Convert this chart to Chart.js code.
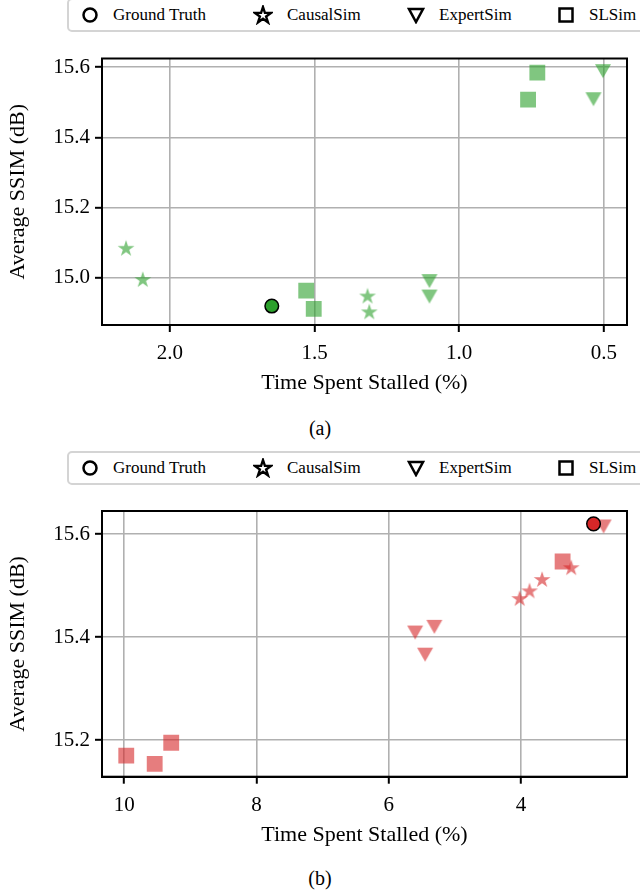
<!DOCTYPE html>
<html lang="en">
<head>
    <meta charset="UTF-8">
    <title>Average SSIM vs Time Spent Stalled</title>
    <script src="https://cdn.jsdelivr.net/npm/chart.js"></script>
    <style>
        body {
            margin: 0;
            width: 640px;
            height: 896px;
            position: relative;
            overflow: hidden;
            background: #fff;
            font-family: "Liberation Serif", "DejaVu Serif", serif;
        }

        .legend {
            position: absolute;
            left: 67px;
            width: 600px;
            height: 34px;
            border: 2px solid #d4d4d4;
            border-radius: 5px;
            box-sizing: border-box;
            background: #fff;
        }

        .legend .item {
            position: absolute;
            top: 0;
            height: 100%;
            display: flex;
            align-items: center;
            font-size: 17px;
            color: #000;
        }

        .legend svg {
            margin-right: 14px;
        }

        .panel {
            position: absolute;
            left: 0;
        }

        .caption {
            position: absolute;
            left: 0;
            width: 640px;
            text-align: center;
            font-size: 20px;
            color: #000;
        }
    </style>
</head>
<body>
    <!-- Legend (a) -->
    <div class="legend" style="top:-2px">
        <div class="item" style="left:12px"><svg width="18" height="18"><circle cx="9" cy="9" r="6.5" fill="none" stroke="#000" stroke-width="2.5"/></svg>Ground Truth</div>
        <div class="item" style="left:184px"><svg width="20" height="20"><polygon points="10,2 11.91,7.87 18.08,7.87 13.09,11.5 15,17.38 10,13.75 5,17.38 6.91,11.5 1.92,7.87 8.09,7.87" fill="none" stroke="#000" stroke-width="2.4"/></svg>CausalSim</div>
        <div class="item" style="left:338px"><svg width="18" height="18"><polygon points="2,3 16,3 9,16" fill="none" stroke="#000" stroke-width="2.5"/></svg>ExpertSim</div>
        <div class="item" style="left:488px"><svg width="18" height="18"><rect x="2.5" y="2.5" width="13" height="13" fill="none" stroke="#000" stroke-width="2.5"/></svg>SLSim</div>
    </div>
    <canvas id="chartA" class="panel" width="640" height="370" style="top:40px"></canvas>
    <div class="caption" style="top:417px">(a)</div>

    <!-- Legend (b) -->
    <div class="legend" style="top:451px">
        <div class="item" style="left:12px"><svg width="18" height="18"><circle cx="9" cy="9" r="6.5" fill="none" stroke="#000" stroke-width="2.5"/></svg>Ground Truth</div>
        <div class="item" style="left:184px"><svg width="20" height="20"><polygon points="10,2 11.91,7.87 18.08,7.87 13.09,11.5 15,17.38 10,13.75 5,17.38 6.91,11.5 1.92,7.87 8.09,7.87" fill="none" stroke="#000" stroke-width="2.4"/></svg>CausalSim</div>
        <div class="item" style="left:338px"><svg width="18" height="18"><polygon points="2,3 16,3 9,16" fill="none" stroke="#000" stroke-width="2.5"/></svg>ExpertSim</div>
        <div class="item" style="left:488px"><svg width="18" height="18"><rect x="2.5" y="2.5" width="13" height="13" fill="none" stroke="#000" stroke-width="2.5"/></svg>SLSim</div>
    </div>
    <canvas id="chartB" class="panel" width="640" height="370" style="top:490px"></canvas>
    <div class="caption" style="top:867px">(b)</div>

    <script>
        // ---- data, panel (a) ----
        const gtAx = [1.648];
        const gtAy = [14.920];
        const causalAx = [2.152, 2.094, 1.317, 1.311];
        const causalAy = [15.083, 14.994, 14.947, 14.902];
        const expertAx = [1.103, 1.103, 0.503, 0.536];
        const expertAy = [14.991, 14.947, 15.589, 15.509];
        const slsimAx = [0.730, 0.762, 1.529, 1.503];
        const slsimAy = [15.585, 15.508, 14.964, 14.912];
        const xRangeA = [0.42, 2.235];
        const yRangeA = [14.866, 15.625];
        const xTicksA = [0.5, 1.0, 1.5, 2.0];
        const yTicksA = [15.0, 15.2, 15.4, 15.6];

        // ---- data, panel (b) ----
        const gtBx = [2.902];
        const gtBy = [15.620];
        const causalBx = [4.02, 3.87, 3.68, 3.24];
        const causalBy = [15.474, 15.489, 15.511, 15.534];
        const expertBx = [2.75, 5.60, 5.31, 5.45];
        const expertBy = [15.615, 15.409, 15.420, 15.366];
        const slsimBx = [3.37, 9.97, 9.54, 9.29];
        const slsimBy = [15.547, 15.170, 15.154, 15.195];
        const xRangeB = [2.396, 10.337];
        const yRangeB = [15.129, 15.645];
        const xTicksB = [4, 6, 8, 10];
        const yTicksB = [15.2, 15.4, 15.6];

        Chart.defaults.font.family = "'Liberation Serif', 'DejaVu Serif', serif";
        Chart.defaults.font.size = 21;
        Chart.defaults.color = '#000';

        function pts(xs, ys) {
            return xs.map((x, i) => ({ x: x, y: ys[i] }));
        }

        // filled star marker (matplotlib '*')
        function starMarker(color, R) {
            const c = document.createElement('canvas');
            const s = Math.ceil(R * 2) + 2;
            c.width = s; c.height = s;
            const g = c.getContext('2d');
            g.fillStyle = color;
            g.beginPath();
            for (let i = 0; i < 10; i++) {
                const r = i % 2 ? R * 0.382 : R;
                const a = -Math.PI / 2 + i * Math.PI / 5;
                g.lineTo(s / 2 + r * Math.cos(a), s / 2 + r * Math.sin(a));
            }
            g.closePath();
            g.fill();
            return c;
        }

        // filled down triangle marker (matplotlib 'v'), centred on its box
        function triMarker(color, w, h) {
            const c = document.createElement('canvas');
            const s = Math.ceil(Math.max(w, h)) + 2;
            c.width = s; c.height = s;
            const g = c.getContext('2d');
            g.fillStyle = color;
            g.beginPath();
            g.moveTo(s / 2 - w / 2, s / 2 - h / 2);
            g.lineTo(s / 2 + w / 2, s / 2 - h / 2);
            g.lineTo(s / 2, s / 2 + h / 2);
            g.closePath();
            g.fill();
            return c;
        }

        // full black frame round the plot area
        const framePlugin = {
            id: 'frame',
            afterDatasetsDraw(chart) {
                const a = chart.chartArea;
                const ctx = chart.ctx;
                ctx.save();
                ctx.strokeStyle = '#000';
                ctx.lineWidth = 2;
                ctx.strokeRect(a.left, a.top, a.right - a.left, a.bottom - a.top);
                ctx.restore();
            }
        };

        function buildPanel(id, base, light, d, opt) {
            return new Chart(document.getElementById(id), {
                type: 'scatter',
                data: {
                    datasets: [
                        { label: 'Ground Truth', data: d.gt, order: 0, pointStyle: 'circle',
                          pointRadius: 6.8, backgroundColor: base, borderColor: '#000', borderWidth: 1.5 },
                        { label: 'CausalSim', data: d.causal, order: 1, pointStyle: starMarker(light, 8.8),
                          pointRadius: 8 },
                        { label: 'ExpertSim', data: d.expert, order: 2, pointStyle: triMarker(light, 16, 14),
                          pointRadius: 8 },
                        { label: 'SLSim', data: d.slsim, order: 3, pointStyle: 'rect',
                          pointRadius: 11.2, backgroundColor: light, borderWidth: 0 }
                    ]
                },
                options: {
                    responsive: false,
                    animation: false,
                    devicePixelRatio: 1,
                    layout: { padding: { top: opt.padTop, right: 13, left: 0, bottom: 0 } },
                    plugins: { legend: { display: false }, tooltip: { enabled: false } },
                    scales: {
                        x: {
                            type: 'linear',
                            reverse: true,
                            min: opt.xRange[0],
                            max: opt.xRange[1],
                            afterBuildTicks: s => { s.ticks = opt.xTicks.map(v => ({ value: v })); },
                            afterFit: s => { s.height = opt.xHeight; },
                            ticks: { padding: 9, maxRotation: 0, autoSkip: false,
                                     callback: v => v.toFixed(opt.xDec) },
                            grid: { color: '#b0b0b0', lineWidth: 1.6, tickColor: '#000',
                                    tickLength: 7, tickWidth: 2 },
                            border: { display: true, color: '#000', width: 2 },
                            title: { display: true, text: 'Time Spent Stalled (%)',
                                     font: { size: 22 },
                                     padding: { top: 0, bottom: opt.titlePad } }
                        },
                        y: {
                            type: 'linear',
                            min: opt.yRange[0],
                            max: opt.yRange[1],
                            afterBuildTicks: s => { s.ticks = opt.yTicks.map(v => ({ value: v })); },
                            afterFit: s => { s.width = 102; },
                            ticks: { padding: 5, autoSkip: false, callback: v => v.toFixed(1) },
                            grid: { color: '#b0b0b0', lineWidth: 1.6, tickColor: '#000',
                                    tickLength: 7, tickWidth: 2 },
                            border: { display: true, color: '#000', width: 2 },
                            title: { display: true, text: 'Average SSIM (dB)',
                                     font: { size: 22 },
                                     padding: { top: 5, bottom: 0 } }
                        }
                    }
                },
                plugins: [framePlugin]
            });
        }

        buildPanel('chartA', '#2ca02c', 'rgba(44,160,44,0.6)', {
            gt: pts(gtAx, gtAy),
            causal: pts(causalAx, causalAy),
            expert: pts(expertAx, expertAy),
            slsim: pts(slsimAx, slsimAy)
        }, { padTop: 18.5, xHeight: 85, titlePad: 14, xDec: 1,
             xRange: xRangeA, yRange: yRangeA, xTicks: xTicksA, yTicks: yTicksA });

        buildPanel('chartB', '#d62728', 'rgba(214,39,40,0.6)', {
            gt: pts(gtBx, gtBy),
            causal: pts(causalBx, causalBy),
            expert: pts(expertBx, expertBy),
            slsim: pts(slsimBx, slsimBy)
        }, { padTop: 21, xHeight: 83.3, titlePad: 12, xDec: 0,
             xRange: xRangeB, yRange: yRangeB, xTicks: xTicksB, yTicks: yTicksB });
    </script>
</body>
</html>
